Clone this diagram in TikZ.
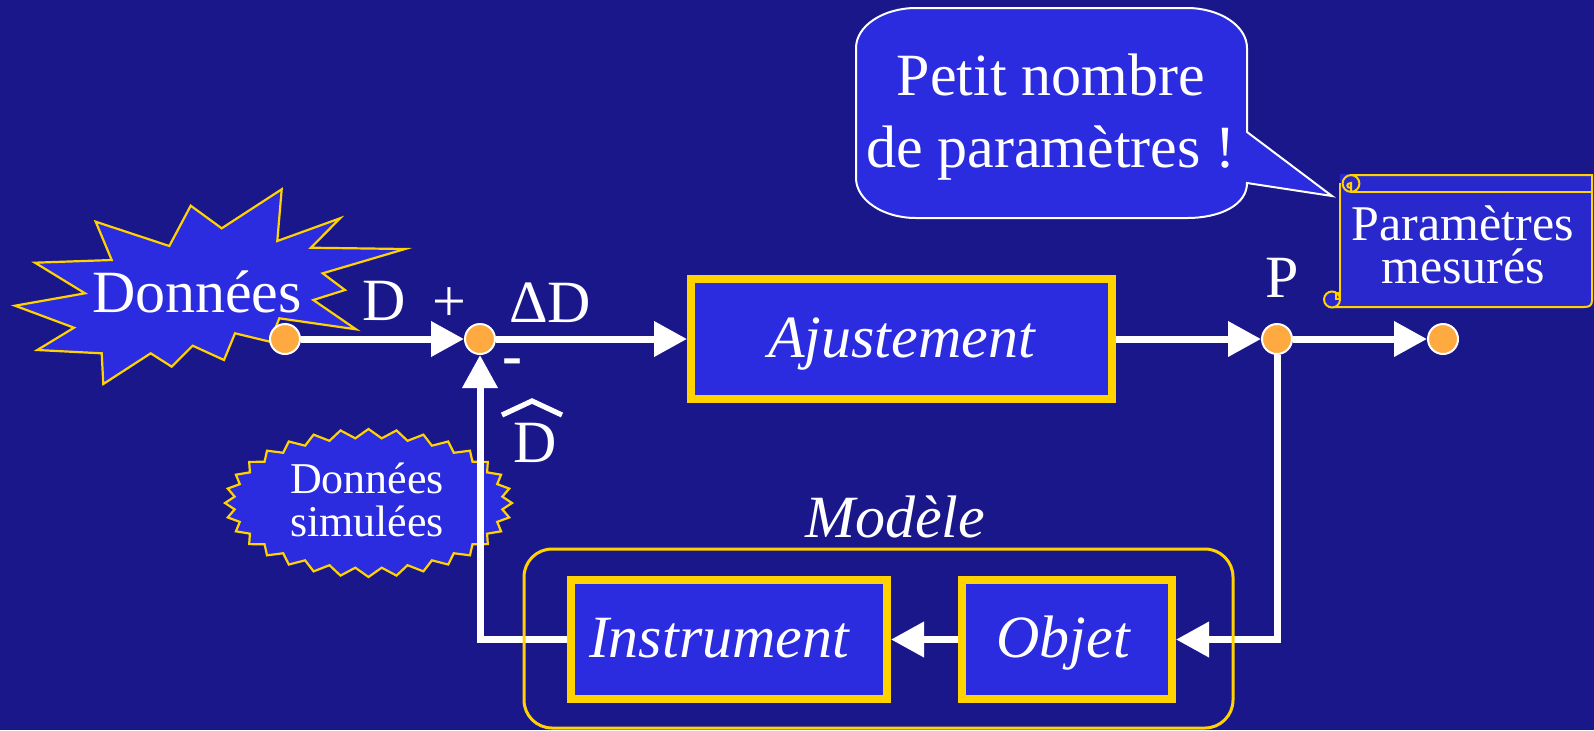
\documentclass[tikz,border=0pt]{standalone}
\usepackage{fontspec}
\setmainfont{Liberation Serif}
\usetikzlibrary{arrows.meta,calc}

\definecolor{bgnavy}{RGB}{26,23,138}
\definecolor{boxblue}{RGB}{43,43,224}
\definecolor{scrollblue}{RGB}{40,40,204}
\definecolor{gold}{RGB}{255,210,0}
\definecolor{dotorange}{RGB}{255,170,64}

\begin{document}
\begin{tikzpicture}[x=0.5pt,y=-0.5pt,
  flow/.style={draw=white,line width=3.5pt,line join=miter,
    -{Triangle[length=16.5pt,width=17pt]}},
  block/.style={draw=gold,fill=boxblue,line width=4pt,text=white,inner sep=0pt,
    font=\fontsize{30}{36}\selectfont\itshape,text height=21pt,text depth=3pt},
  junction/.style={circle,fill=dotorange,draw=white,line width=1pt,
    minimum size=15pt,inner sep=0pt},
  lbl/.style={text=white,inner sep=0pt,font=\fontsize{30}{36}\selectfont},
  burst/.style={fill=boxblue,draw=gold,line width=1.1pt,line join=miter},
  scrollline/.style={draw=gold,line width=1pt},
]
% background
\fill[bgnavy] (0,0) rectangle (1594,730);
\useasboundingbox (0,0) rectangle (1594,730);

% "Données" explosion
\path[burst] (95.7,221.7) -- (169.3,246) -- (190.7,205.7) -- (221.7,228.3)
  -- (281.7,189.3) -- (277.3,241) -- (340,218.3) -- (311,247.7) -- (405,249)
  -- (322.7,273.3) -- (345,290) -- (313.3,300) -- (356,329.3) -- (279.3,318.3)
  -- (270,341.7) -- (235,333.3) -- (224,360) -- (192.7,345.7) -- (171.7,366.7)
  -- (150.7,353.3) -- (103.3,384) -- (101.7,353.3) -- (37.3,350) -- (74,327.7)
  -- (15,305.7) -- (85,293.3) -- (35,262.7) -- (111.7,260) -- cycle;
\node[lbl,anchor=base] (donnees) at (197,312) {Données};

% "Données simulées" seal
\path[burst] plot[domain=0:63,samples=64,variable=\k]
  ({368.5+(143.5-4.5*(1-cos(180*\k)))*cos(5.625*\k)},
   {503+(74-4.5*(1-cos(180*\k)))*sin(5.625*\k)}) -- cycle;
\node[text=white,inner sep=0pt,align=center,
  font=\fontsize{22}{21.5}\selectfont] (simul) at (367,500) {Données\\simulées};

% speech bubble
\filldraw[fill=boxblue,draw=white,line width=1pt]
  (1247,132) -- (1332,196) -- (1247,183)
  .. controls (1247,205) and (1220,218) .. (1187,218) -- (916,218)
  .. controls (883,218) and (856,200) .. (856,178) -- (856,48)
  .. controls (856,26) and (883,8) .. (916,8) -- (1187,8)
  .. controls (1220,8) and (1247,26) .. (1247,48) -- cycle;
\node[lbl,align=center] (bubble) at (1051,117) {Petit nombre\\de paramètres !};

% scroll
\fill[scrollblue] (1340,174) -- (1592,174) -- (1592,302) -- (1586,308)
  -- (1332,308) -- (1332,292) -- (1340,292) -- cycle;
\draw[scrollline] (1351,175) -- (1592,175) -- (1592,300)
  .. controls (1592,305) and (1590,307) .. (1584,307) -- (1332,307);
\draw[scrollline] (1351,192) -- (1592,192);
\draw[scrollline] (1340,183) -- (1340,300);
\filldraw[scrollline,fill=scrollblue] (1351,183.5) circle[radius=4.2pt];
\draw[scrollline] (1351,188) .. controls (1346,188) and (1346,183) .. (1351,183)
  -- (1351,192);
\filldraw[scrollline,fill=scrollblue] (1332,299.5) circle[radius=4pt];
\draw[scrollline] (1340,293) -- (1336,293) -- (1336,299) -- (1340,299);
\node[text=white,inner sep=0pt,align=center,
  font=\fontsize{25}{21.5}\selectfont] (scrolltxt) at (1463,245) {Paramètres\\mesurés};

% junction points
\node[junction] (d1)  at (285,339) {};
\node[junction] (sum) at (480,339) {};
\node[junction] (p)   at (1277,339) {};
\node[junction] (out) at (1443,339) {};

% blocks
\node[block,minimum width=210.5pt,minimum height=60pt] (aj) at (901.5,339) {Ajustement};
\node[block,minimum width=158pt,minimum height=59.5pt] (ins) at (729,639.5)
  {\hspace*{-10pt}Instrument};
\node[block,minimum width=105pt,minimum height=59.5pt] (obj) at (1067,639.5)
  {\hspace*{-4pt}Objet};

% signal flow
\draw[flow] (d1.east) -- (sum.west);
\draw[flow] (sum.east) -- (aj.west);
\draw[flow] (aj.east) -- (p.west);
\draw[flow] (p.east) -- (out.west);
\draw[flow] (p.south) |- (obj.east);
\draw[flow] (obj.west) -- (ins.east);
\draw[flow] (ins.west) -| (sum.south);

% model frame
\node[draw=gold,line width=1.5pt,rounded corners=14pt,minimum width=354.5pt,
  minimum height=89.5pt,inner sep=0pt] (model) at (878.5,638.5) {};
\node[lbl,anchor=base,font=\fontsize{30}{36}\selectfont\itshape] (modlab) at (895,537) {Modèle};

% signal labels
\node[lbl,anchor=base] (dlab) at (384,320) {D};
\node[lbl] (plus) at (449,305) {+};
\node[lbl,anchor=base] (delta) at (550,322) {ΔD};
\node[lbl,font=\fontsize{30}{36}\selectfont\bfseries] (minus) at (512,367) {-};
\node[lbl,anchor=base] (dhat) at (535,462) {D};
\draw[white,line width=2.6pt,line join=miter]
  ($(dhat.base)+(-33,-47)$) -- ($(dhat.base)+(-3,-61)$) -- ($(dhat.base)+(27,-47)$);
\node[lbl,anchor=base] (plab) at (1282,297) {P};
\end{tikzpicture}
\end{document}
